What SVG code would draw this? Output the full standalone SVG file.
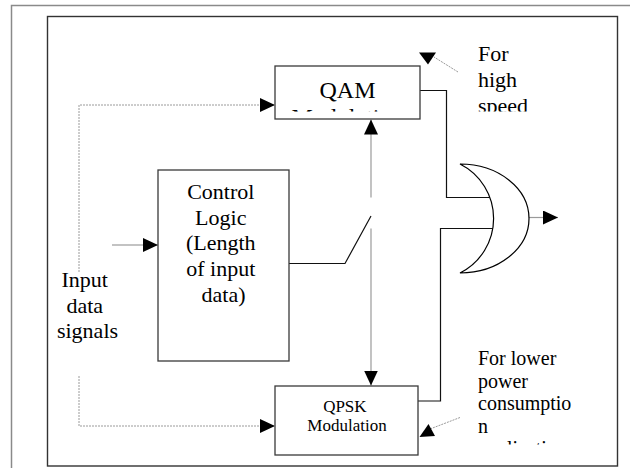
<svg xmlns="http://www.w3.org/2000/svg" width="630" height="468" viewBox="0 0 630 468">
  <style>
    .box { fill: #ffffff; stroke: #3a3a3a; stroke-width: 1.3; }
    .lbl { font-family: "Liberation Serif", "Times New Roman", serif; fill: #000000; }
    .mid { text-anchor: middle; }
    .wire { fill: none; stroke: #111111; stroke-width: 1.2; }
    .grey { fill: none; stroke: #9a9a9a; stroke-width: 1.2; }
    .dots { fill: none; stroke: #9a9a9a; stroke-width: 1; stroke-dasharray: 2 1; }
    .head { fill: #000000; stroke: none; }
  </style>
  <defs>
    <marker id="arrow" viewBox="0 0 15 14" refX="15" refY="7" markerWidth="15" markerHeight="14" markerUnits="userSpaceOnUse" orient="auto">
      <path d="M0,0 L15,7 L0,14 z" fill="#000000"/>
    </marker>
    <clipPath id="clipQam"><rect x="276" y="66" width="143" height="45.5"/></clipPath>
    <clipPath id="clipHigh"><rect x="470" y="30" width="150" height="81.5"/></clipPath>
    <clipPath id="clipLow"><rect x="470" y="340" width="146" height="104.5"/></clipPath>
  </defs>

  <!-- page frames -->
  <g id="frames">
    <path d="M11.5,468 L11.5,5.5 L630,5.5" fill="none" stroke="#8a8a8a" stroke-width="1.5"/>
    <rect x="47.5" y="16.5" width="570" height="449.5" fill="#ffffff" stroke="#333333" stroke-width="1.4"/>
  </g>

  <!-- connectors -->
  <g id="connectors">
    <!-- input data to QAM and QPSK -->
    <polyline class="dots" points="79,272 79,105 275,105" marker-end="url(#arrow)"/>
    <polyline class="dots" points="79,376 79,426 275,426" marker-end="url(#arrow)"/>
    <!-- input into control logic -->
    <line x1="112" y1="245" x2="158" y2="245" stroke="#888888" stroke-width="1.1" marker-end="url(#arrow)"/>
    <!-- control logic switch -->
    <polyline class="wire" points="289,263.5 345,263.5 371,216"/>
    <line class="grey" x1="371" y1="197.5" x2="371" y2="119.5" marker-end="url(#arrow)"/>
    <line class="grey" x1="371" y1="228.5" x2="371" y2="385.5" marker-end="url(#arrow)"/>
    <!-- modulator outputs into the combiner -->
    <polyline class="wire" points="420,90.5 446.5,90.5 446.5,197.5 491,197.5"/>
    <polyline class="wire" points="418,401 440.5,401 440.5,228.5 493,228.5"/>
    <!-- combined output -->
    <line class="grey" x1="529" y1="217.5" x2="558" y2="217.5" marker-end="url(#arrow)"/>
    <!-- note pointers -->
    <line class="dots" x1="458" y1="72" x2="434" y2="57"/>
    <polygon class="head" points="419,52.5 436,52.5 428,64.5"/>
    <line class="dots" x1="460" y1="417.5" x2="430" y2="429"/>
    <polygon class="head" points="419.5,437 428.5,424 435,436"/>
  </g>

  <!-- combiner gate -->
  <g id="gate">
    <path d="M460,164 A69,54.5 0 0 1 529,218.5 A69,54.5 0 0 1 460,273 A61,61 0 0 0 460,164 z" fill="#ffffff" stroke="#000000" stroke-width="1.2"/>
  </g>

  <g id="qam">
    <rect class="box" x="275" y="66" width="145" height="53"/>
    <g clip-path="url(#clipQam)">
      <text class="lbl mid" x="347.5" y="98" font-size="24">QAM</text>
      <text class="lbl mid" x="347.5" y="125" font-size="24">Modulation</text>
    </g>
  </g>

  <g id="control">
    <rect class="box" x="158" y="170" width="131" height="191"/>
    <text class="lbl mid" font-size="22">
      <tspan x="223.5" y="199">Control</tspan>
      <tspan x="223.5" y="224.5">Logic</tspan>
      <tspan x="223.5" y="250">(Length</tspan>
      <tspan x="223.5" y="276">of input</tspan>
      <tspan x="223.5" y="301.5">data)</tspan>
    </text>
  </g>

  <g id="qpsk">
    <rect class="box" x="275" y="386" width="143" height="69"/>
    <text class="lbl mid" font-size="17">
      <tspan x="347" y="411.5">QPSK</tspan>
      <tspan x="347" y="431">Modulation</tspan>
    </text>
  </g>

  <g id="input-label">
    <text class="lbl mid" font-size="22">
      <tspan x="87.5" y="287">Input</tspan>
      <tspan x="87.5" y="313">data</tspan>
      <tspan x="87.5" y="338">signals</tspan>
    </text>
  </g>

  <g id="note-high" clip-path="url(#clipHigh)">
    <text class="lbl" font-size="22">
      <tspan x="478" y="61">For</tspan>
      <tspan x="478" y="87">high</tspan>
      <tspan x="478" y="113">speed</tspan>
    </text>
  </g>

  <g id="note-low" clip-path="url(#clipLow)">
    <text class="lbl" font-size="20">
      <tspan x="478" y="365">For lower</tspan>
      <tspan x="478" y="387.5">power</tspan>
      <tspan x="478" y="410">consumptio</tspan>
      <tspan x="478" y="432.5">n</tspan>
      <tspan x="478" y="455">applications</tspan>
    </text>
  </g>
</svg>
